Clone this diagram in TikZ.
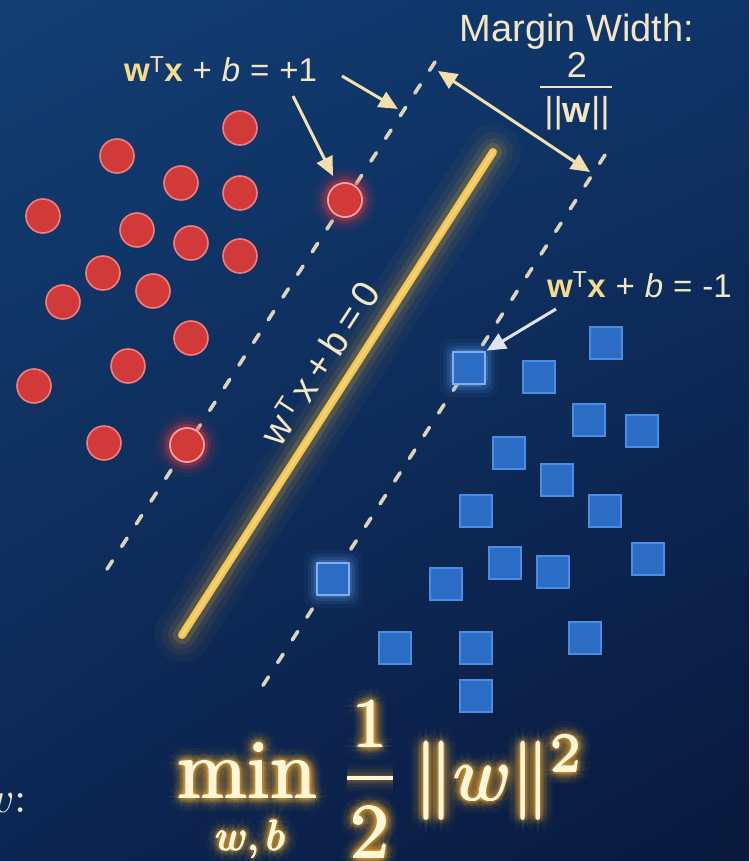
\documentclass[tikz,border=0pt]{standalone}
\usepackage{graphicx}
\usepackage{fontspec}
\newfontfamily\labfont{Liberation Sans}
\usetikzlibrary{arrows.meta,calc,shadings}
\definecolor{bgTL}{HTML}{133E73}
\definecolor{bgTR}{HTML}{0F3468}
\definecolor{bgBL}{HTML}{0C2653}
\definecolor{bgBR}{HTML}{09183B}
\definecolor{redfill}{HTML}{D23A3A}
\definecolor{redline}{HTML}{EE7F7F}
\definecolor{redglow}{HTML}{FF3B3B}
\definecolor{bluefill}{HTML}{2B6CC4}
\definecolor{blueline}{HTML}{4C8CE2}
\definecolor{blueglow}{HTML}{5FA8FF}
\definecolor{goldcore}{HTML}{F2C651}
\definecolor{goldglow}{HTML}{F5B53A}
\definecolor{dashcol}{HTML}{DCD5BC}
\definecolor{arrcol}{HTML}{F1DFAE}
\definecolor{arrbcol}{HTML}{DFE3F5}
\definecolor{labcol}{HTML}{F3E6C4}
\definecolor{wcol}{HTML}{F6DA8E}
\definecolor{fcol}{HTML}{FFF6D8}
\definecolor{fglow}{HTML}{E8A630}
\definecolor{wcutcol}{HTML}{EDE6D6}
\tikzset{
  redpt/.style={circle, minimum size=34pt, inner sep=0pt, fill=redfill, draw=redline, line width=1.6pt},
  bluept/.style={rectangle, minimum size=32pt, inner sep=0pt, fill=bluefill, draw=blueline, line width=1.6pt},
  marginline/.style={draw=dashcol, line width=3.6pt, line cap=round, dash pattern=on 10pt off 17pt},
  arrcream/.style={draw=arrcol, line width=3pt, -{Triangle[length=19pt,width=17pt]}},
  arrboth/.style={draw=arrcol, line width=3pt, {Triangle[length=19pt,width=17pt]}-{Triangle[length=19pt,width=17pt]}},
  arrblue/.style={draw=arrbcol, line width=3pt, -{Triangle[length=19pt,width=17pt]}},
  lab/.style={font={\labfont\fontsize{33}{36}\selectfont}, text=labcol, inner sep=0pt},
  labbig/.style={font={\labfont\fontsize{38}{42}\selectfont}, text=labcol, inner sep=0pt},
  labfrac/.style={font={\labfont\fontsize{36}{39}\selectfont}, text=labcol, inner sep=0pt},
  labrot/.style={font={\labfont\fontsize{38}{41}\selectfont}, text=labcol, inner sep=0pt},
  fnode/.style={inner sep=0pt},
}
\newcommand\glowtxt[3]{%
  \foreach \gr/\go in {14/0.03,11/0.045,8/0.07,5.5/0.1,3/0.15}{%
    \foreach \ga in {0,30,...,330}{%
      \node[fnode,#2,text=fglow,text opacity=\go] at ($(#1)+(\ga:\gr)$) {#3};}}%
  \foreach \ga in {0,90,180,270}{%
    \node[fnode,#2,text=fcol] at ($(#1)+(\ga:0.8)$) {#3};}%
}
\newcommand\tmin{\scalebox{8.4}{$\mathrm{min}$}}
\newcommand\tsub{\scalebox{4.3}{$w,b$}}
\newcommand\tone{\scalebox{7.0}{$1$}}
\newcommand\ttwo{\scalebox{7.8}{$2$}}
\newcommand\tnorm{\scalebox{7.8}{$\|w\|^2$}}
\begin{document}
\begin{tikzpicture}[x=1pt,y=-1pt]
\useasboundingbox (0,0) rectangle (749,861);
\begin{scope}
\clip (0,0) rectangle (749,861);
\shade[upper left=bgTL, upper right=bgTR, lower left=bgBL, lower right=bgBR] (0,0) rectangle (749,861);

% key coordinates
\coordinate (y1) at (493,152);
\coordinate (y2) at (182,635);
\coordinate (u1) at (435,62);
\coordinate (u2) at (100,580);
\coordinate (l1) at (605,155);
\coordinate (l2) at (260,690);

% hyperplane with glow
\foreach \w/\o in {56/0.04,40/0.06,28/0.09,18/0.16}{
  \draw[goldglow, line width=\w pt, line cap=round, opacity=\o] (y1) -- (y2);}
\draw[goldcore, line width=8pt, line cap=round] (y1) -- (y2);
\draw[white!40!goldcore, line width=2.5pt, line cap=round, opacity=0.6] (y1) -- (y2);

% margin lines
\draw[marginline] (u1) -- (u2);
\draw[marginline] (l1) -- (l2);

% glows of support vectors
\foreach \px/\py in {345/200, 187/445}{
  \foreach \r/\o in {32/0.05,28/0.09,24/0.16,21/0.25}{
    \fill[redglow, opacity=\o] (\px,\py) circle (\r pt);}}
\foreach \px/\py in {469/368, 333/579}{
  \foreach \r/\o in {29/0.05,25/0.09,22/0.15,19/0.25}{
    \fill[blueglow, opacity=\o, rounded corners=9pt] (\px-\r,\py-\r) rectangle (\px+\r,\py+\r);}}

% red class
\foreach \n/\x/\y in {r1/240/128, r2/117/156, r3/181/183, r4/240/193, r5/345/200,
  r6/43/216, r7/137/230, r8/191/243, r9/240/256, r10/103/273, r11/153/291,
  r12/63/302, r13/191/338, r14/128/366, r15/34/386, r16/104/443, r17/187/445}{
  \node[redpt] (\n) at (\x,\y) {};}
\node[redpt, draw=redline!70!white] at (r5) {};
\node[redpt, draw=redline!70!white] at (r17) {};

% blue class
\foreach \n/\x/\y in {b1/469/368, b2/539/377, b3/606/343, b4/589/420, b5/642/431,
  b6/509/453, b7/557/480, b8/476/511, b9/605/511, b10/505/563, b11/553/572,
  b12/648/559, b13/446/584, b14/333/579, b15/395/648, b16/476/648, b17/585/638, b18/476/696}{
  \node[bluept] (\n) at (\x,\y) {};}
\node[bluept, draw=blueline!70!white] at (b1) {};
\node[bluept, draw=blueline!70!white] at (b14) {};

% hyperplane label
\node[labrot, rotate=57] (hlab) at (320,363)
  {w\hspace{.06em}\textsuperscript{T}\hspace{.16em}x\hspace{.18em}+\hspace{.18em}b\hspace{.18em}=\hspace{.18em}0};

% labels
\node[lab, anchor=base west] (lplus) at (124,82)
  {\textbf{\color{wcol}w}\textsuperscript{T}\textbf{\color{wcol}x}\hspace{.3em}+\hspace{.3em}\textit{b}\hspace{.3em}=\hspace{.3em}+1};
\node[lab, anchor=base west] (lminus) at (547,297)
  {\textbf{\color{wcol}w}\textsuperscript{T}\textbf{\color{wcol}x}\hspace{.3em}+\hspace{.3em}\textit{b}\hspace{.3em}=\hspace{.3em}-1};
\node[labbig, anchor=base] (mwlab) at (577,42) {Margin Width:};
\node[labfrac, anchor=base] (mtwo) at (577,78) {2};
\draw[labcol, line width=2.8pt] (540,87) -- (612,87);
\node[labfrac, anchor=base] (mnorm) at (577,123) {||\textbf{w}||};

% arrows
\coordinate (a1s) at (342,76);
\coordinate (a1e) at (398,109);
\coordinate (a2s) at (293,96);
\coordinate (dA) at (438,71);
\coordinate (dB) at (590,172);
\coordinate (a4s) at (556,309);
\draw[arrcream] (a1s) -- (a1e);
\draw[arrcream, shorten >=9pt] (a2s) -- (r5);
\draw[arrboth] (dA) -- (dB);
\draw[arrblue, shorten >=1pt] (a4s) -- (b1.north east);

% objective
\coordinate (pmin) at (177,798);
\coordinate (psub) at (250,850);
\coordinate (pone) at (370,747);
\coordinate (ptwo) at (370,858);
\coordinate (pnorm) at (414,800);
\glowtxt{pmin}{anchor=base west}{\tmin}
\glowtxt{psub}{anchor=base}{\tsub}
\glowtxt{pone}{anchor=base}{\tone}
\glowtxt{ptwo}{anchor=base}{\ttwo}
\glowtxt{pnorm}{anchor=base west}{\tnorm}
\foreach \w/\o in {30/0.03,24/0.045,18/0.07,12/0.1,7/0.15}{
  \draw[fglow, line width=\w pt, opacity=\o] (347,778) -- (393,778);}
\node[fnode, anchor=base west, text=fcol] (fmin) at (pmin) {\tmin};
\node[fnode, anchor=base, text=fcol] (fsub) at (psub) {\tsub};
\node[fnode, anchor=base, text=fcol] (fone) at (pone) {\tone};
\draw[fcol, line width=3.8pt] (347,778) -- (393,778);
\node[fnode, anchor=base, text=fcol] (ftwo) at (ptwo) {\ttwo};
\node[fnode, anchor=base west, text=fcol] (fnorm) at (pnorm) {\tnorm};

% cut-off text at left edge
\node[fnode, anchor=base east, text=wcutcol] (wcut) at (27,812) {\scalebox{4.4}{$w$:}};
\end{scope}
\end{tikzpicture}
\end{document}
